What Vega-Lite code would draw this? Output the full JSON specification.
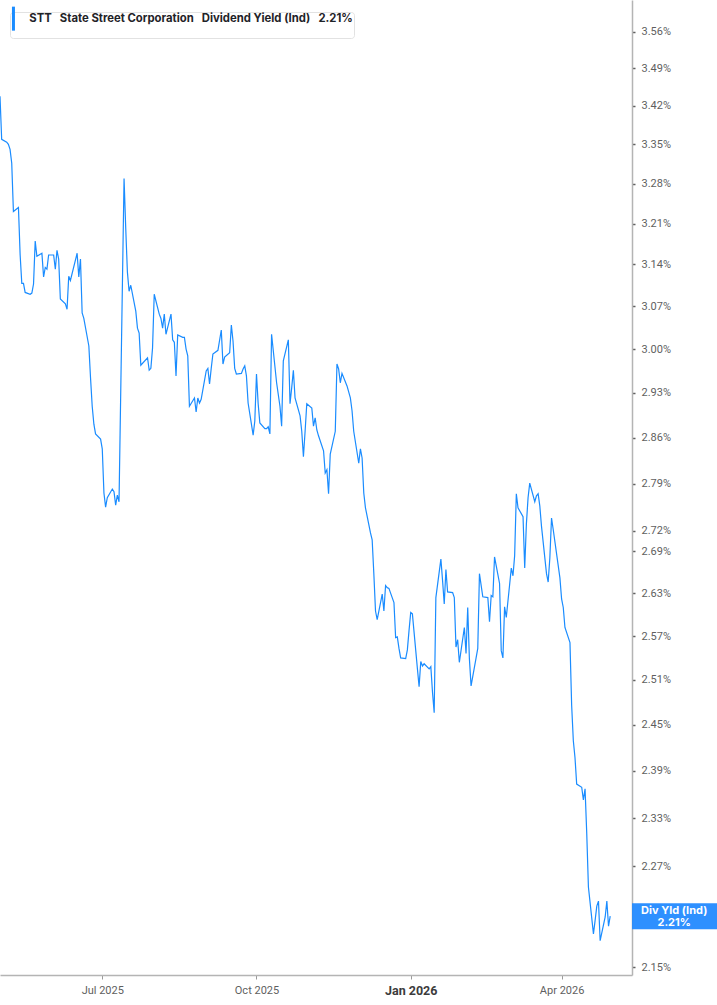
{
  "$schema": "https://vega.github.io/schema/vega-lite/v6.json",
  "width": 632,
  "height": 975,
  "autosize": {"type": "none"},
  "padding": {"left": 0, "top": 0, "right": 85, "bottom": 30},
  "background": "white",
  "data": {
    "format": {"parse": {"date": "date"}},
    "values": [
      {"date": "2025-05-01", "yield": 3.438}, {"date": "2025-05-02", "yield": 3.359}, {"date": "2025-05-05", "yield": 3.354},
      {"date": "2025-05-06", "yield": 3.350}, {"date": "2025-05-07", "yield": 3.341}, {"date": "2025-05-08", "yield": 3.316},
      {"date": "2025-05-09", "yield": 3.231}, {"date": "2025-05-12", "yield": 3.238}, {"date": "2025-05-13", "yield": 3.157},
      {"date": "2025-05-14", "yield": 3.108}, {"date": "2025-05-15", "yield": 3.108}, {"date": "2025-05-16", "yield": 3.093},
      {"date": "2025-05-19", "yield": 3.090}, {"date": "2025-05-20", "yield": 3.092}, {"date": "2025-05-21", "yield": 3.107},
      {"date": "2025-05-22", "yield": 3.180}, {"date": "2025-05-23", "yield": 3.154}, {"date": "2025-05-26", "yield": 3.159},
      {"date": "2025-05-27", "yield": 3.119}, {"date": "2025-05-28", "yield": 3.135}, {"date": "2025-05-29", "yield": 3.132},
      {"date": "2025-05-30", "yield": 3.156}, {"date": "2025-06-02", "yield": 3.156}, {"date": "2025-06-03", "yield": 3.132},
      {"date": "2025-06-04", "yield": 3.164}, {"date": "2025-06-05", "yield": 3.149}, {"date": "2025-06-06", "yield": 3.082},
      {"date": "2025-06-09", "yield": 3.074}, {"date": "2025-06-10", "yield": 3.065}, {"date": "2025-06-11", "yield": 3.120},
      {"date": "2025-06-12", "yield": 3.113}, {"date": "2025-06-16", "yield": 3.159}, {"date": "2025-06-17", "yield": 3.119},
      {"date": "2025-06-18", "yield": 3.149}, {"date": "2025-06-19", "yield": 3.059}, {"date": "2025-06-20", "yield": 3.050},
      {"date": "2025-06-23", "yield": 3.005}, {"date": "2025-06-24", "yield": 2.954}, {"date": "2025-06-25", "yield": 2.909},
      {"date": "2025-06-26", "yield": 2.881}, {"date": "2025-06-27", "yield": 2.866}, {"date": "2025-06-30", "yield": 2.858},
      {"date": "2025-07-01", "yield": 2.843}, {"date": "2025-07-02", "yield": 2.776}, {"date": "2025-07-03", "yield": 2.755},
      {"date": "2025-07-04", "yield": 2.769}, {"date": "2025-07-07", "yield": 2.782}, {"date": "2025-07-08", "yield": 2.778},
      {"date": "2025-07-09", "yield": 2.758}, {"date": "2025-07-10", "yield": 2.773}, {"date": "2025-07-11", "yield": 2.763},
      {"date": "2025-07-14", "yield": 3.289}, {"date": "2025-07-15", "yield": 3.202}, {"date": "2025-07-16", "yield": 3.127},
      {"date": "2025-07-17", "yield": 3.095}, {"date": "2025-07-18", "yield": 3.105}, {"date": "2025-07-21", "yield": 3.062},
      {"date": "2025-07-22", "yield": 3.034}, {"date": "2025-07-23", "yield": 3.026}, {"date": "2025-07-24", "yield": 2.974},
      {"date": "2025-07-28", "yield": 2.986}, {"date": "2025-07-29", "yield": 2.966}, {"date": "2025-07-30", "yield": 2.969},
      {"date": "2025-07-31", "yield": 3.002}, {"date": "2025-08-01", "yield": 3.090}, {"date": "2025-08-04", "yield": 3.057},
      {"date": "2025-08-05", "yield": 3.050}, {"date": "2025-08-06", "yield": 3.034}, {"date": "2025-08-07", "yield": 3.057},
      {"date": "2025-08-08", "yield": 3.024}, {"date": "2025-08-11", "yield": 3.057}, {"date": "2025-08-12", "yield": 3.015},
      {"date": "2025-08-13", "yield": 3.011}, {"date": "2025-08-14", "yield": 2.957}, {"date": "2025-08-15", "yield": 3.023},
      {"date": "2025-08-18", "yield": 3.019}, {"date": "2025-08-19", "yield": 3.019}, {"date": "2025-08-20", "yield": 3.000},
      {"date": "2025-08-21", "yield": 2.989}, {"date": "2025-08-22", "yield": 2.909}, {"date": "2025-08-25", "yield": 2.922},
      {"date": "2025-08-26", "yield": 2.900}, {"date": "2025-08-27", "yield": 2.922}, {"date": "2025-08-28", "yield": 2.914},
      {"date": "2025-08-29", "yield": 2.920}, {"date": "2025-09-01", "yield": 2.965}, {"date": "2025-09-02", "yield": 2.969},
      {"date": "2025-09-03", "yield": 2.944}, {"date": "2025-09-04", "yield": 2.969}, {"date": "2025-09-05", "yield": 2.992},
      {"date": "2025-09-08", "yield": 2.998}, {"date": "2025-09-10", "yield": 3.031}, {"date": "2025-09-11", "yield": 2.976},
      {"date": "2025-09-12", "yield": 2.987}, {"date": "2025-09-15", "yield": 2.994}, {"date": "2025-09-16", "yield": 3.039},
      {"date": "2025-09-17", "yield": 3.013}, {"date": "2025-09-18", "yield": 2.969}, {"date": "2025-09-19", "yield": 2.960},
      {"date": "2025-09-22", "yield": 2.961}, {"date": "2025-09-23", "yield": 2.968}, {"date": "2025-09-24", "yield": 2.973},
      {"date": "2025-09-25", "yield": 2.957}, {"date": "2025-09-26", "yield": 2.914}, {"date": "2025-09-29", "yield": 2.864},
      {"date": "2025-09-30", "yield": 2.886}, {"date": "2025-10-01", "yield": 2.960}, {"date": "2025-10-02", "yield": 2.913},
      {"date": "2025-10-03", "yield": 2.883}, {"date": "2025-10-06", "yield": 2.874}, {"date": "2025-10-07", "yield": 2.874},
      {"date": "2025-10-08", "yield": 2.877}, {"date": "2025-10-09", "yield": 2.866}, {"date": "2025-10-10", "yield": 3.024},
      {"date": "2025-10-13", "yield": 2.946}, {"date": "2025-10-15", "yield": 2.909}, {"date": "2025-10-16", "yield": 2.878},
      {"date": "2025-10-17", "yield": 2.981}, {"date": "2025-10-20", "yield": 3.015}, {"date": "2025-10-21", "yield": 2.913},
      {"date": "2025-10-22", "yield": 2.938}, {"date": "2025-10-23", "yield": 2.966}, {"date": "2025-10-24", "yield": 2.922},
      {"date": "2025-10-27", "yield": 2.894}, {"date": "2025-10-28", "yield": 2.870}, {"date": "2025-10-29", "yield": 2.831},
      {"date": "2025-10-30", "yield": 2.870}, {"date": "2025-10-31", "yield": 2.913}, {"date": "2025-11-03", "yield": 2.906},
      {"date": "2025-11-04", "yield": 2.878}, {"date": "2025-11-05", "yield": 2.891}, {"date": "2025-11-06", "yield": 2.872},
      {"date": "2025-11-07", "yield": 2.863}, {"date": "2025-11-10", "yield": 2.840}, {"date": "2025-11-11", "yield": 2.806},
      {"date": "2025-11-12", "yield": 2.811}, {"date": "2025-11-13", "yield": 2.775}, {"date": "2025-11-14", "yield": 2.835},
      {"date": "2025-11-17", "yield": 2.870}, {"date": "2025-11-18", "yield": 2.976}, {"date": "2025-11-19", "yield": 2.968},
      {"date": "2025-11-20", "yield": 2.946}, {"date": "2025-11-21", "yield": 2.961}, {"date": "2025-11-24", "yield": 2.941},
      {"date": "2025-11-26", "yield": 2.922}, {"date": "2025-11-27", "yield": 2.902}, {"date": "2025-11-28", "yield": 2.870},
      {"date": "2025-12-01", "yield": 2.821}, {"date": "2025-12-02", "yield": 2.843}, {"date": "2025-12-03", "yield": 2.829},
      {"date": "2025-12-04", "yield": 2.776}, {"date": "2025-12-05", "yield": 2.754}, {"date": "2025-12-08", "yield": 2.717},
      {"date": "2025-12-09", "yield": 2.707}, {"date": "2025-12-10", "yield": 2.658}, {"date": "2025-12-11", "yield": 2.605},
      {"date": "2025-12-12", "yield": 2.593}, {"date": "2025-12-15", "yield": 2.629}, {"date": "2025-12-16", "yield": 2.605},
      {"date": "2025-12-17", "yield": 2.641}, {"date": "2025-12-18", "yield": 2.638}, {"date": "2025-12-19", "yield": 2.637},
      {"date": "2025-12-22", "yield": 2.617}, {"date": "2025-12-23", "yield": 2.568}, {"date": "2025-12-24", "yield": 2.569},
      {"date": "2025-12-25", "yield": 2.553}, {"date": "2025-12-26", "yield": 2.540}, {"date": "2025-12-29", "yield": 2.539},
      {"date": "2025-12-30", "yield": 2.551}, {"date": "2025-12-31", "yield": 2.578}, {"date": "2026-01-01", "yield": 2.603},
      {"date": "2026-01-02", "yield": 2.601}, {"date": "2026-01-05", "yield": 2.525}, {"date": "2026-01-06", "yield": 2.501},
      {"date": "2026-01-07", "yield": 2.535}, {"date": "2026-01-08", "yield": 2.529}, {"date": "2026-01-09", "yield": 2.532},
      {"date": "2026-01-12", "yield": 2.525}, {"date": "2026-01-13", "yield": 2.528}, {"date": "2026-01-14", "yield": 2.493},
      {"date": "2026-01-15", "yield": 2.466}, {"date": "2026-01-16", "yield": 2.624}, {"date": "2026-01-19", "yield": 2.679},
      {"date": "2026-01-20", "yield": 2.648}, {"date": "2026-01-21", "yield": 2.615}, {"date": "2026-01-22", "yield": 2.664},
      {"date": "2026-01-23", "yield": 2.632}, {"date": "2026-01-26", "yield": 2.631}, {"date": "2026-01-27", "yield": 2.624},
      {"date": "2026-01-28", "yield": 2.555}, {"date": "2026-01-29", "yield": 2.565}, {"date": "2026-01-30", "yield": 2.534},
      {"date": "2026-02-02", "yield": 2.582}, {"date": "2026-02-03", "yield": 2.546}, {"date": "2026-02-04", "yield": 2.610},
      {"date": "2026-02-05", "yield": 2.539}, {"date": "2026-02-06", "yield": 2.502}, {"date": "2026-02-09", "yield": 2.540},
      {"date": "2026-02-10", "yield": 2.553}, {"date": "2026-02-11", "yield": 2.658}, {"date": "2026-02-13", "yield": 2.625},
      {"date": "2026-02-16", "yield": 2.624}, {"date": "2026-02-17", "yield": 2.590}, {"date": "2026-02-18", "yield": 2.627},
      {"date": "2026-02-19", "yield": 2.625}, {"date": "2026-02-20", "yield": 2.682}, {"date": "2026-02-23", "yield": 2.644},
      {"date": "2026-02-24", "yield": 2.550}, {"date": "2026-02-25", "yield": 2.540}, {"date": "2026-02-26", "yield": 2.611},
      {"date": "2026-02-27", "yield": 2.596}, {"date": "2026-03-02", "yield": 2.666}, {"date": "2026-03-03", "yield": 2.655},
      {"date": "2026-03-04", "yield": 2.684}, {"date": "2026-03-05", "yield": 2.775}, {"date": "2026-03-06", "yield": 2.754},
      {"date": "2026-03-09", "yield": 2.741}, {"date": "2026-03-10", "yield": 2.666}, {"date": "2026-03-11", "yield": 2.730},
      {"date": "2026-03-12", "yield": 2.769}, {"date": "2026-03-13", "yield": 2.791}, {"date": "2026-03-16", "yield": 2.763},
      {"date": "2026-03-17", "yield": 2.772}, {"date": "2026-03-18", "yield": 2.775}, {"date": "2026-03-19", "yield": 2.757},
      {"date": "2026-03-20", "yield": 2.727}, {"date": "2026-03-23", "yield": 2.658}, {"date": "2026-03-24", "yield": 2.646},
      {"date": "2026-03-25", "yield": 2.681}, {"date": "2026-03-26", "yield": 2.739}, {"date": "2026-03-27", "yield": 2.722},
      {"date": "2026-03-31", "yield": 2.652}, {"date": "2026-04-01", "yield": 2.622}, {"date": "2026-04-02", "yield": 2.610},
      {"date": "2026-04-03", "yield": 2.582}, {"date": "2026-04-06", "yield": 2.561}, {"date": "2026-04-07", "yield": 2.476},
      {"date": "2026-04-08", "yield": 2.429}, {"date": "2026-04-09", "yield": 2.407}, {"date": "2026-04-10", "yield": 2.373},
      {"date": "2026-04-13", "yield": 2.369}, {"date": "2026-04-14", "yield": 2.353}, {"date": "2026-04-15", "yield": 2.367},
      {"date": "2026-04-16", "yield": 2.311}, {"date": "2026-04-17", "yield": 2.245}, {"date": "2026-04-20", "yield": 2.189},
      {"date": "2026-04-21", "yield": 2.205}, {"date": "2026-04-22", "yield": 2.222}, {"date": "2026-04-23", "yield": 2.228},
      {"date": "2026-04-24", "yield": 2.181}, {"date": "2026-04-27", "yield": 2.209}, {"date": "2026-04-28", "yield": 2.228},
      {"date": "2026-04-29", "yield": 2.198}, {"date": "2026-04-30", "yield": 2.210}
    ]
  },
  "encoding": {
    "x": {
      "field": "date",
      "type": "temporal",
      "scale": {
        "type": "utc",
        "domain": [
          {"year": 2025, "month": 5, "date": 1, "utc": true},
          {"year": 2026, "month": 5, "date": 13, "utc": true}
        ]
      },
      "axis": {
        "title": null,
        "grid": false,
        "values": [
          {"year": 2025, "month": 7, "date": 1, "utc": true},
          {"year": 2025, "month": 10, "date": 1, "utc": true},
          {"year": 2026, "month": 1, "date": 1, "utc": true},
          {"year": 2026, "month": 4, "date": 1, "utc": true}
        ],
        "labelExpr": "utcFormat(datum.value, '%b %Y')",
        "labelFont": "Roboto",
        "labelFontSize": {"condition": {"test": "utcmonth(datum.value) == 0", "value": 12.5}, "value": 11},
        "labelFontWeight": {"condition": {"test": "utcmonth(datum.value) == 0", "value": "bold"}, "value": "normal"},
        "labelColor": {"condition": {"test": "utcmonth(datum.value) == 0", "value": "#3c3c3c"}, "value": "#5f5f5f"},
        "labelPadding": 5,
        "labelFlush": false,
        "domainColor": "#b4b4b4",
        "domainWidth": 1.5,
        "tickColor": "#9a9a9a",
        "tickSize": 4
      }
    },
    "y": {
      "field": "yield",
      "type": "quantitative",
      "scale": {"type": "log", "domain": [2.141, 3.621], "nice": false},
      "axis": {
        "orient": "right",
        "title": null,
        "grid": false,
        "values": [3.56, 3.49, 3.42, 3.35, 3.28, 3.21, 3.14, 3.07, 3.0, 2.93, 2.86, 2.79, 2.72, 2.69, 2.63, 2.57, 2.51, 2.45, 2.39, 2.33, 2.27, 2.15],
        "labelExpr": "format(datum.value, '.2f') + '%'",
        "labelOverlap": false,
        "labelFont": "Roboto",
        "labelFontSize": 11,
        "labelColor": "#5f5f5f",
        "labelPadding": 6,
        "domainColor": "#b4b4b4",
        "domainWidth": 1.5,
        "tickColor": "#606060",
        "tickSize": 3,
        "tickWidth": 1.5
      }
    }
  },
  "layer": [
    {
      "mark": {"type": "line", "strokeWidth": 1.2, "interpolate": "linear"},
      "encoding": {
        "color": {
          "datum": "STT\u00a0\u00a0 State Street Corporation\u00a0\u00a0 Dividend Yield (Ind)\u00a0\u00a0 2.21%\u00a0",
          "type": "nominal",
          "scale": {"range": ["#1a8cff"]},
          "legend": {
            "orient": "none",
            "legendX": 10,
            "legendY": 12,
            "title": null,
            "padding": 1,
            "fillColor": "white",
            "strokeColor": "#e2e2e2",
            "cornerRadius": 3,
            "symbolType": "M-0.8,-3L-0.8,3",
            "symbolSize": 64,
            "symbolStrokeWidth": 3,
            "labelFont": "Inter",
            "labelFontSize": 11.3,
            "labelFontWeight": "bold",
            "labelColor": "#1f2328",
            "labelLimit": 500,
            "labelOffset": 7
          }
        }
      }
    },
    {
      "transform": [
        {"joinaggregate": [{"op": "max", "field": "date", "as": "last"}]},
        {"filter": "time(datum.date) == time(datum.last)"}
      ],
      "mark": {
        "type": "point",
        "shape": "M1.68,-1H8.6V1H1.68Z",
        "size": 676,
        "filled": true,
        "color": "#1e88ff",
        "opacity": 0.93,
        "strokeWidth": 0
      }
    },
    {
      "transform": [
        {"joinaggregate": [{"op": "max", "field": "date", "as": "last"}]},
        {"filter": "time(datum.date) == time(datum.last)"}
      ],
      "mark": {
        "type": "text",
        "lineBreak": "\n",
        "lineHeight": 12,
        "align": "center",
        "baseline": "middle",
        "dx": 64,
        "dy": -5,
        "color": "white",
        "font": "Inter",
        "fontWeight": "bold",
        "fontSize": 11
      },
      "encoding": {"text": {"value": "Div Yld (Ind)\n2.21%"}}
    }
  ],
  "config": {
    "view": {"stroke": null},
    "font": "Roboto"
  }
}
